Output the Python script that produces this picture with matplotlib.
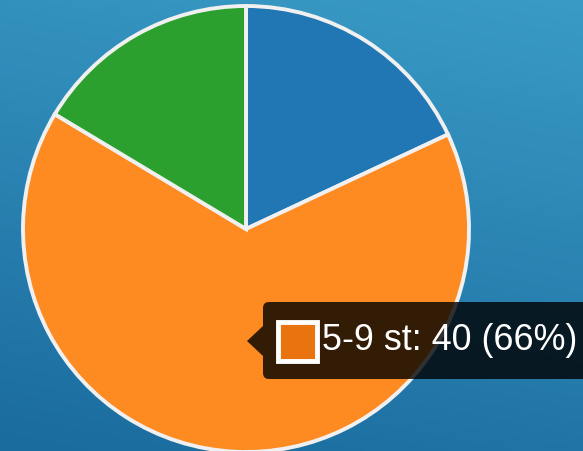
import numpy as np
import matplotlib
matplotlib.use("Agg")
import matplotlib.pyplot as plt
from matplotlib.patches import FancyBboxPatch, Polygon, Rectangle
from matplotlib.colors import LinearSegmentedColormap

# data
labels = ["0-4 st", "5-9 st", "10+ st"]
values = [11, 40, 10]
colors = ["#2077b3", "#fe8b21", "#2ca02f"]
tooltip_label = "5-9 st"
tooltip_color = "#e8730f"

W, H = 583, 452
fig = plt.figure(figsize=(W / 100, H / 100), dpi=100)
ax = fig.add_axes([0, 0, 1, 1])

# blue gradient background, mostly top->bottom, a bit lighter to the right
yy, xx = np.mgrid[0:1:200j, 0:1:200j]
grad = 0.8 * yy + 0.2 * (1 - xx)
bg = LinearSegmentedColormap.from_list("bg", ["#3a9bc6", "#1a6b9e"])
ax.imshow(grad, cmap=bg, extent=[0, W, 0, H], origin="upper",
          aspect="auto", zorder=0)

cx, cy, r = 246, H - 230, 223
ax.pie(values, colors=colors, startangle=90, counterclock=False,
       center=(cx, cy), radius=r, frame=True,
       wedgeprops=dict(edgecolor="#f0f0f0", linewidth=2.8))
ax.set_xlim(0, W)
ax.set_ylim(0, H)
ax.axis("off")

# tooltip
pct = round(100 * values[1] / sum(values))
box = FancyBboxPatch((263, H - 380), 340, 77,
                     boxstyle="round,pad=0,rounding_size=6",
                     facecolor="black", edgecolor="none", alpha=0.8, zorder=5)
ax.add_patch(box)
ax.add_patch(Polygon([[263, H - 327], [247, H - 342], [263, H - 357]],
                     closed=True, facecolor="black", edgecolor="none",
                     alpha=0.8, zorder=5))
ax.add_patch(Rectangle((278, H - 362), 39, 39, facecolor=tooltip_color,
                       edgecolor="white", linewidth=3.5, zorder=6))
ax.text(322, H - 341, f"{tooltip_label}: {values[1]} ({pct}%)",
        color="white", fontsize=25.8, family="Liberation Sans",
        va="center", ha="left", zorder=7)

fig.savefig("out.png", dpi=100)
